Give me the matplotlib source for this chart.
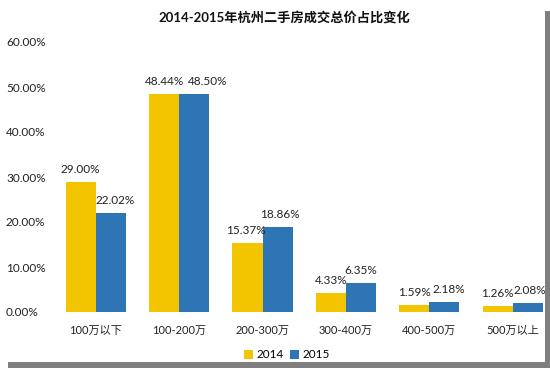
import matplotlib
matplotlib.use("Agg")
import matplotlib.pyplot as plt
from matplotlib.patches import Rectangle
from matplotlib.ticker import FuncFormatter
import numpy as np

plt.rcParams['font.family'] = ['Lato', 'Noto Sans CJK SC', 'DejaVu Sans']

categories = ['100万以下', '100-200万', '200-300万', '300-400万', '400-500万', '500万以上']
series_names = ['2014', '2015']
values_2014 = [29.00, 48.44, 15.37, 4.33, 1.59, 1.26]
values_2015 = [22.02, 48.50, 18.86, 6.35, 2.18, 2.08]
yticks = [0, 10, 20, 30, 40, 50, 60]
title = '2014-2015年杭州二手房成交总价占比变化'

# horizontal nudges of data labels (points), as placed in the reference
label_dx_2014 = [0, 0, -1.5, 0, 0, -0.5]
label_dx_2015 = [3.5, 10, 2, 0, 3, 1.5]

c14 = '#F2C500'
c15 = '#2E75B6'

W, H = 550, 368
fig = plt.figure(figsize=(W / 100, H / 100), dpi=100)
fig.patch.set_facecolor('white')

left, right, top, bottom = 54, 545, 42, 312
ax = fig.add_axes([left / W, (H - bottom) / H, (right - left) / W, (bottom - top) / H])
ax.set_facecolor('none')

x = np.arange(len(categories))
bw = 0.36
b1 = ax.bar(x - bw / 2, values_2014, bw, color=c14, label=series_names[0])
b2 = ax.bar(x + bw / 2, values_2015, bw, color=c15, label=series_names[1])

for rects, vals, dxs in ((b1, values_2014, label_dx_2014), (b2, values_2015, label_dx_2015)):
    for r, v, dx in zip(rects, vals, dxs):
        ax.annotate(f'{v:.2f}%', (r.get_x() + r.get_width() / 2, v),
                    xytext=(dx, 5), textcoords='offset points',
                    ha='center', va='bottom', fontsize=8.5, color='#222222')

px_per_unit = 83.4
ax.set_xlim(-0.5, -0.5 + (right - left) / px_per_unit)
ax.set_ylim(0, 60)
ax.set_yticks(yticks)
ax.yaxis.set_major_formatter(FuncFormatter(lambda v, p: f'{v:.2f}%'))
ax.set_xticks(x)
ax.set_xticklabels(categories)
for s in ax.spines.values():
    s.set_visible(False)
ax.tick_params(axis='both', length=0, labelsize=8.5, colors='#222222')
ax.tick_params(axis='y', pad=0)
ax.tick_params(axis='x', pad=9, labelsize=8)
for lbl in ax.get_yticklabels():
    lbl.set_horizontalalignment('left')
    lbl.set_x(-48 / (right - left))

fig.text(284 / W, 1 - 17 / H, title, ha='center', va='center', fontsize=9.5, fontweight='bold', color='#111111')

leg = fig.legend(handles=[b1, b2], labels=series_names, loc='center', bbox_to_anchor=(287 / W, 1 - 355 / H),
                 ncol=2, frameon=False, fontsize=8.5, handlelength=0.7, handleheight=0.7,
                 handletextpad=0.3, columnspacing=0.6)

# shadow frame
fig.patches.append(Rectangle((545 / W, 0), 5 / W, 1 - 11 / H, transform=fig.transFigure,
                             facecolor='#7f7f7f', edgecolor='none', zorder=0))
fig.patches.append(Rectangle((8 / W, 0), 1 - 8 / W, 6 / H, transform=fig.transFigure,
                             facecolor='#7f7f7f', edgecolor='none', zorder=0))

fig.savefig('out.png', dpi=100)
